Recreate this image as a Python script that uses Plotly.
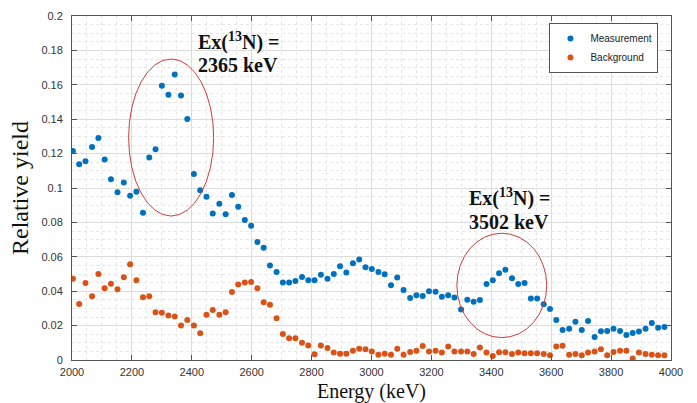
import plotly.graph_objects as go

energy_kev = [2003, 2024, 2045, 2067, 2088, 2109, 2130, 2152, 2173, 2194,
              2215, 2237, 2258, 2279, 2300, 2322, 2343, 2364, 2385, 2407,
              2428, 2449, 2470, 2492, 2513, 2534, 2555, 2577, 2598, 2619,
              2640, 2661, 2683, 2704, 2725, 2746, 2768, 2789, 2810, 2831,
              2853, 2874, 2895, 2916, 2938, 2959, 2980, 3001, 3023, 3044,
              3065, 3086, 3107, 3129, 3150, 3171, 3192, 3214, 3235, 3256,
              3277, 3299, 3320, 3341, 3362, 3384, 3405, 3426, 3447, 3469,
              3490, 3511, 3532, 3553, 3575, 3596, 3617, 3638, 3660, 3681,
              3702, 3723, 3745, 3766, 3787, 3808, 3830, 3851, 3872, 3893,
              3915, 3936, 3957, 3978]

measurement = [0.1215, 0.1138, 0.1156, 0.1239, 0.1291, 0.1165, 0.1051, 0.0976, 0.1032, 0.0955,
               0.0978, 0.0856, 0.1177, 0.1225, 0.1594, 0.1542, 0.1660, 0.1538, 0.1401, 0.1082,
               0.0987, 0.0949, 0.0852, 0.0908, 0.0848, 0.0960, 0.0891, 0.0814, 0.0781, 0.0686,
               0.0653, 0.0549, 0.0512, 0.0450, 0.0450, 0.0460, 0.0483, 0.0464, 0.0464, 0.0495,
               0.0473, 0.0500, 0.0545, 0.0508,
               0.0562, 0.0585, 0.0539, 0.0529, 0.0512, 0.0498, 0.0434, 0.0479, 0.0407, 0.0360,
               0.0376, 0.0372, 0.0399, 0.0397, 0.0368, 0.0376, 0.0364, 0.0293, 0.0351, 0.0339,
               0.0349, 0.0442, 0.0463, 0.0504, 0.0525, 0.0475, 0.0442, 0.0448, 0.0357, 0.0357,
               0.0324, 0.0297, 0.0233, 0.0174, 0.0182, 0.0223, 0.0174, 0.0227, 0.0134, 0.0167,
               0.0169, 0.0182, 0.0169, 0.0145, 0.0157, 0.0165, 0.0182, 0.0215, 0.0188, 0.0192]

background = [0.0473, 0.0325, 0.0448, 0.0371, 0.0500, 0.0417, 0.0444, 0.0412, 0.0481, 0.0557,
              0.0464, 0.0365, 0.0371, 0.0278, 0.0274, 0.0259, 0.0253, 0.0201, 0.0232, 0.0201,
              0.0155, 0.0263, 0.0290, 0.0263, 0.0278, 0.0396, 0.0439, 0.0450, 0.0454, 0.0417,
              0.0336, 0.0321, 0.0243, 0.0151, 0.0126, 0.0126, 0.0100, 0.0085, 0.0033, 0.0085,
              0.0070, 0.0043, 0.0037, 0.0037,
              0.0054, 0.0066, 0.0062, 0.0050, 0.0031, 0.0037, 0.0031, 0.0066, 0.0031, 0.0047,
              0.0054, 0.0081, 0.0050, 0.0054, 0.0043, 0.0078, 0.0050, 0.0050, 0.0050, 0.0035,
              0.0072, 0.0043, 0.0023, 0.0045, 0.0045,
              0.0035, 0.0043, 0.0039, 0.0039, 0.0039, 0.0035, 0.0027, 0.0078, 0.0083, 0.0031,
              0.0035, 0.0027, 0.0043, 0.0050, 0.0062, 0.0027, 0.0047, 0.0054, 0.0054, 0.0008,
              0.0043, 0.0035, 0.0031, 0.0027, 0.0027]

series_names = ["Measurement", "Background"]
series_colors = ["#0072BD", "#D95319"]

x_ticks = [2000, 2200, 2400, 2600, 2800, 3000, 3200, 3400, 3600, 3800, 4000]
y_ticks = [0, 0.02, 0.04, 0.06, 0.08, 0.1, 0.12, 0.14, 0.16, 0.18, 0.2]
y_tick_text = ["0", "0.02", "0.04", "0.06", "0.08", "0.1", "0.12", "0.14", "0.16", "0.18", "0.2"]

peak_labels = ["2365 keV", "3502 keV"]

fig = go.Figure()
for name, vals, col in zip(series_names, [measurement, background], series_colors):
    fig.add_trace(go.Scatter(x=energy_kev, y=vals, mode="markers", name=name,
                             marker=dict(color=col, size=6, line=dict(width=0))))

axis_common = dict(
    automargin=False,
    showline=True, linecolor="#555555", linewidth=1, mirror="ticks",
    ticks="inside", ticklen=5, tickcolor="#555555",
    showgrid=True, gridcolor="#dcdcdc", gridwidth=1, zeroline=False,
    tickfont=dict(family="Liberation Sans, Arial, sans-serif", size=11, color="#333333"),
)

fig.update_xaxes(range=[2000, 4000], tickvals=x_ticks, ticklabelstandoff=2,
                 minor=dict(dtick=50, showgrid=True, gridcolor="#e6e6e6", griddash="dot", ticks=""),
                 title=dict(text="Energy (keV)", standoff=14,
                            font=dict(family="Liberation Serif, Times New Roman, serif", size=20, color="#111111")),
                 **axis_common)
fig.update_yaxes(range=[0, 0.2], tickvals=y_ticks, ticktext=y_tick_text, ticklabelstandoff=6,
                 minor=dict(dtick=0.005, showgrid=True, gridcolor="#e6e6e6", griddash="dot", ticks=""),
                 title=dict(text="Relative yield", standoff=5,
                            font=dict(family="Liberation Serif, Times New Roman, serif", size=24, color="#111111")),
                 **axis_common)

# ellipses
fig.add_shape(type="circle", xref="x", yref="y", x0=2189, x1=2473, y0=0.0837, y1=0.175,
              line=dict(color="#d03a3a", width=1))
fig.add_shape(type="circle", xref="x", yref="y", x0=3285, x1=3585, y0=0.0130, y1=0.0737,
              line=dict(color="#d03a3a", width=1))

ann_font = dict(family="Liberation Serif, Times New Roman, serif", size=20, color="#111111")
for x, y1, y2, lab in [(2415, 0.1849, 0.1715, peak_labels[0]), (3318, 0.0942, 0.0802, peak_labels[1])]:
    fig.add_annotation(x=x, y=y1, xref="x", yref="y", xanchor="left", yanchor="middle",
                       text="<b>Ex(<sup>13</sup>N) =</b>", showarrow=False, font=ann_font)
    fig.add_annotation(x=x, y=y2, xref="x", yref="y", xanchor="left", yanchor="middle",
                       text="<b>" + lab + "</b>", showarrow=False, font=ann_font)

fig.update_layout(
    width=697, height=403,
    margin=dict(l=72, r=26, t=16, b=43),
    paper_bgcolor="white", plot_bgcolor="white",
    showlegend=True,
    legend=dict(x=0.979, y=0.98, xanchor="right", yanchor="top",
                bgcolor="white", bordercolor="#555555", borderwidth=1,
                font=dict(family="Liberation Sans, Arial, sans-serif", size=10, color="#222222"),
                tracegroupgap=0),
)

fig.write_html("out.html", config={"displayModeBar": False},
               post_script="document.body.style.margin='0';")
